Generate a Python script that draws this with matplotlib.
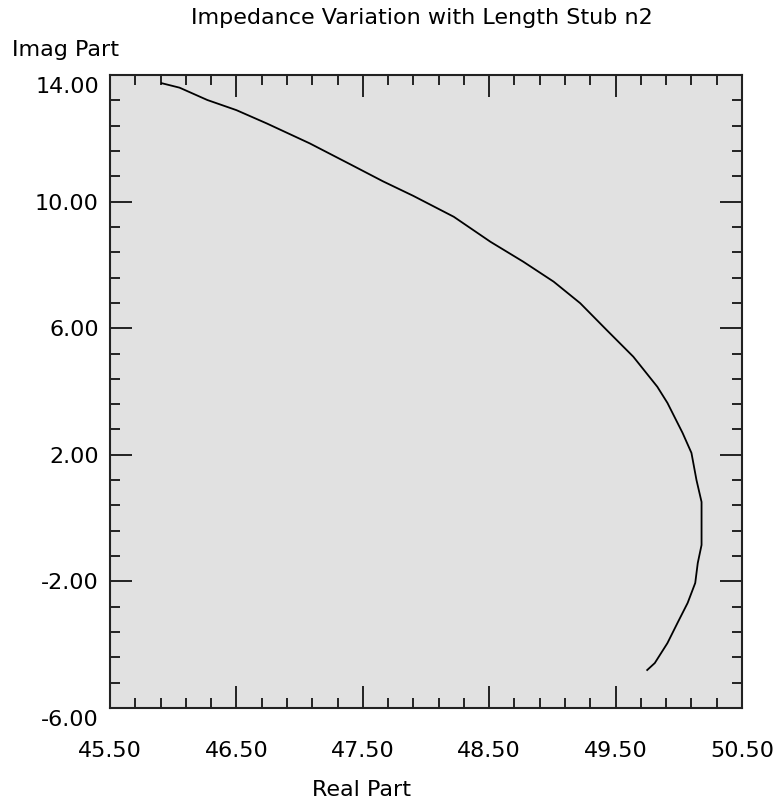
import numpy as np
import matplotlib.pyplot as plt
from matplotlib.ticker import FixedLocator, FormatStrFormatter
from matplotlib.transforms import ScaledTranslation

# impedance trace (real, imag)
real_part = [45.91, 46.05, 46.27, 46.50, 46.74, 47.08, 47.40, 47.66, 47.90,
             48.22, 48.51, 48.77, 49.01, 49.22, 49.43, 49.64, 49.83,
             49.91, 50.03, 50.10, 50.14, 50.18, 50.18, 50.15, 50.13, 50.07,
             49.99, 49.91, 49.81, 49.75]
imag_part = [13.74, 13.60, 13.21, 12.89, 12.47, 11.84, 11.18, 10.64, 10.18,
             9.52, 8.73, 8.10, 7.47, 6.79, 5.94, 5.10, 4.15,
             3.64, 2.69, 2.06, 1.20, 0.51, -0.85, -1.42, -2.05, -2.68,
             -3.31, -3.95, -4.58, -4.80]

x_major = [45.5, 46.5, 47.5, 48.5, 49.5, 50.5]
y_major = [-6.0, -2.0, 2.0, 6.0, 10.0, 14.0]

plt.rcParams["font.family"] = "DejaVu Sans"
font_size = 16

fig = plt.figure(figsize=(7.79, 8.10), dpi=100)
ax = fig.add_axes([110 / 779, 1 - 708 / 810, 632 / 779, 633 / 810])
ax.set_facecolor("#e1e1e1")
ax.plot(real_part, imag_part, color="black", lw=1.3)

ax.set_xlim(45.5, 50.5)
ax.set_ylim(-6, 14)
ax.xaxis.set_major_locator(FixedLocator(x_major))
ax.xaxis.set_minor_locator(FixedLocator(np.linspace(45.5, 50.5, 26)))
ax.yaxis.set_major_locator(FixedLocator(y_major))
ax.yaxis.set_minor_locator(FixedLocator(np.linspace(-6, 14, 26)))
ax.xaxis.set_major_formatter(FormatStrFormatter("%.2f"))
ax.yaxis.set_major_formatter(FormatStrFormatter("%.2f"))
ax.tick_params(which="both", direction="in", top=True, right=True, width=1.4,
               color="#222222", labelsize=font_size)
ax.tick_params(which="major", length=15.5)
ax.tick_params(which="minor", length=7)
ax.tick_params(axis="x", which="major", pad=24)
ax.tick_params(axis="y", which="major", pad=8)
for s in ax.spines.values():
    s.set_linewidth(1.5)
    s.set_color("#222222")

# nudge end labels on y axis down like in the original
fig.canvas.draw()
ylabels = ax.get_yticklabels()
shift = ScaledTranslation(0, -10 / 100, fig.dpi_scale_trans)
for lab in (ylabels[0], ylabels[-1]):
    lab.set_transform(lab.get_transform() + shift)

fig.text(422 / 779, 1 - 18 / 810, "Impedance Variation with Length Stub n2",
         ha="center", va="center", fontsize=font_size)
fig.text(12 / 779, 1 - 50 / 810, "Imag Part", ha="left", va="center",
         fontsize=font_size)
fig.text(362 / 779, 1 - 790 / 810, "Real Part", ha="center", va="center",
         fontsize=font_size)

fig.savefig("out.png", dpi=100)
